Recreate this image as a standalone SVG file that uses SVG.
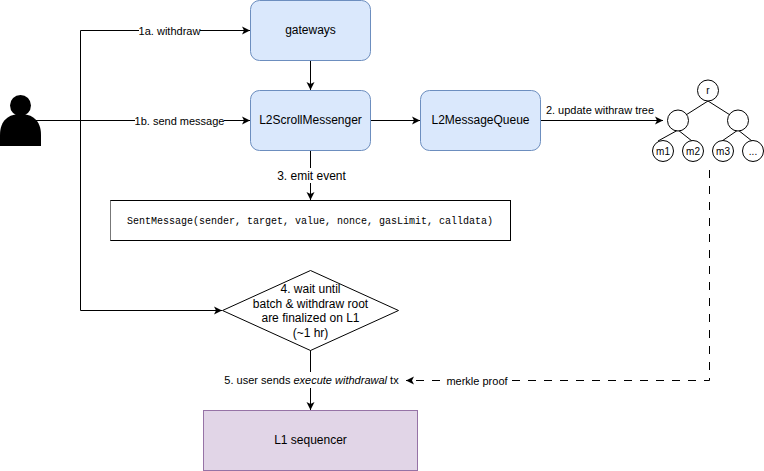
<svg xmlns="http://www.w3.org/2000/svg" width="764" height="471" viewBox="0 0 764 471">
<style>
text{font-family:"Liberation Sans",Arial,sans-serif;font-size:12px;fill:#000;text-anchor:middle}
.s{font-size:11px}
.t{font-size:10px}
.m{font-family:"Liberation Mono","DejaVu Sans Mono",monospace;font-size:10px}
.c{fill:none;stroke:#000;stroke-width:1}
.d{stroke-dasharray:8 8}
.b{fill:#dae8fc;stroke:#6c8ebf;stroke-width:1}
.w{fill:#fff;stroke:#000;stroke-width:1}
.bg{fill:#fff;stroke:none}
</style>
<defs>
<marker id="a" markerUnits="userSpaceOnUse" markerWidth="10" markerHeight="10" refX="8" refY="5" orient="auto"><path d="M0,1L8,5L0,9L2,5Z" fill="#000"/></marker>
</defs>
<rect width="764" height="471" fill="#fff"/>
<g id="connectors">
<path class="c" d="M41,120.500H80.500V30.500H250" marker-end="url(#a)"/>
<path class="c" d="M35,120.500H250" marker-end="url(#a)"/>
<path class="c" d="M80.500,120.500V310.500H222" marker-end="url(#a)"/>
<path class="c" d="M310.500,60V90" marker-end="url(#a)"/>
<path class="c" d="M371,120.500H420" marker-end="url(#a)"/>
<path class="c" d="M310.500,150V200" marker-end="url(#a)"/>
<path class="c" d="M540,120.500H663" marker-end="url(#a)"/>
<path class="c" d="M310.500,350V410" marker-end="url(#a)"/>
<path class="c d" d="M709.500,170V380.500H406" marker-end="url(#a)"/>
<path class="c" d="M708,101L678,120M708,101L738,120M678,130L658,141M678,130L692,141M738,130L722,141M738,130L752,141"/>
</g>
<g id="labels">
<rect class="bg" x="139" y="24" width="61" height="13"/><text class="s" x="169.500" y="35">1a. withdraw</text>
<rect class="bg" x="135" y="114" width="89" height="13"/><text class="s" x="179.500" y="125">1b. send message</text>
<rect class="bg" x="276" y="168" width="71" height="15"/><text x="311.500" y="180">3. emit event</text>
<rect class="bg" x="544" y="102" width="108" height="15"/><text class="s" x="600" y="114">2. update withraw tree</text>
<rect class="bg" x="222" y="372" width="178" height="16"/><text class="s" x="311.500" y="384">5. user sends <tspan font-style="italic">execute withdrawal</tspan> tx</text>
<rect class="bg" x="445" y="372" width="63" height="16"/><text class="s" x="477" y="385">merkle proof</text>
</g>
<g id="gateways"><rect class="b" x="250.500" y="0.500" width="120" height="60" rx="9"/><text x="310.500" y="34">gateways</text></g>
<g id="messenger"><rect class="b" x="250.500" y="90.500" width="120" height="60" rx="9"/><text x="310.500" y="124">L2ScrollMessenger</text></g>
<g id="queue"><rect class="b" x="420.500" y="90.500" width="120" height="60" rx="9"/><text x="480.500" y="124">L2MessageQueue</text></g>
<g id="user"><circle cx="20.500" cy="105.500" r="10.500" fill="#000"/><path d="M0,146V135C0,120 9,114 20.500,114C32,114 41,120 41,135V146Z" fill="#000"/></g>
<g id="event"><rect class="w" x="110.500" y="200.500" width="400" height="40"/><path d="M110.500,200.500V240.500" stroke="#777" stroke-width="1"/><text class="m" x="310" y="224">SentMessage(sender, target, value, nonce, gasLimit, calldata)</text></g>
<g id="wait"><path class="w" d="M310.500,270.500L398.500,310.500L310.500,350.500L222.500,310.500Z"/>
<text x="310.500" y="293">4. wait until</text><text x="310.500" y="308">batch &amp; withdraw root</text><text x="310.500" y="322">are finalized on L1</text><text x="310.500" y="337">(~1 hr)</text></g>
<g id="sequencer"><rect x="203.500" y="410.500" width="214" height="60" fill="#e1d5e7" stroke="#9673a6"/><text x="310.500" y="444">L1 sequencer</text></g>
<g id="tree-r"><circle class="w" cx="708" cy="90.500" r="10.500"/><text class="t" x="708" y="94">r</text></g>
<g id="tree-l"><circle class="w" cx="678" cy="120.500" r="10.500"/></g>
<g id="tree-rr"><circle class="w" cx="738" cy="120.500" r="10.500"/></g>
<g id="tree-m1"><circle class="w" cx="663" cy="151" r="10.500"/><text class="t" x="663" y="155">m1</text></g>
<g id="tree-m2"><circle class="w" cx="693" cy="151" r="10.500"/><text class="t" x="693" y="155">m2</text></g>
<g id="tree-m3"><circle class="w" cx="723" cy="151" r="10.500"/><text class="t" x="723" y="155">m3</text></g>
<g id="tree-more"><circle class="w" cx="753" cy="151" r="10.500"/><text class="t" x="753" y="155">...</text></g>
</svg>
